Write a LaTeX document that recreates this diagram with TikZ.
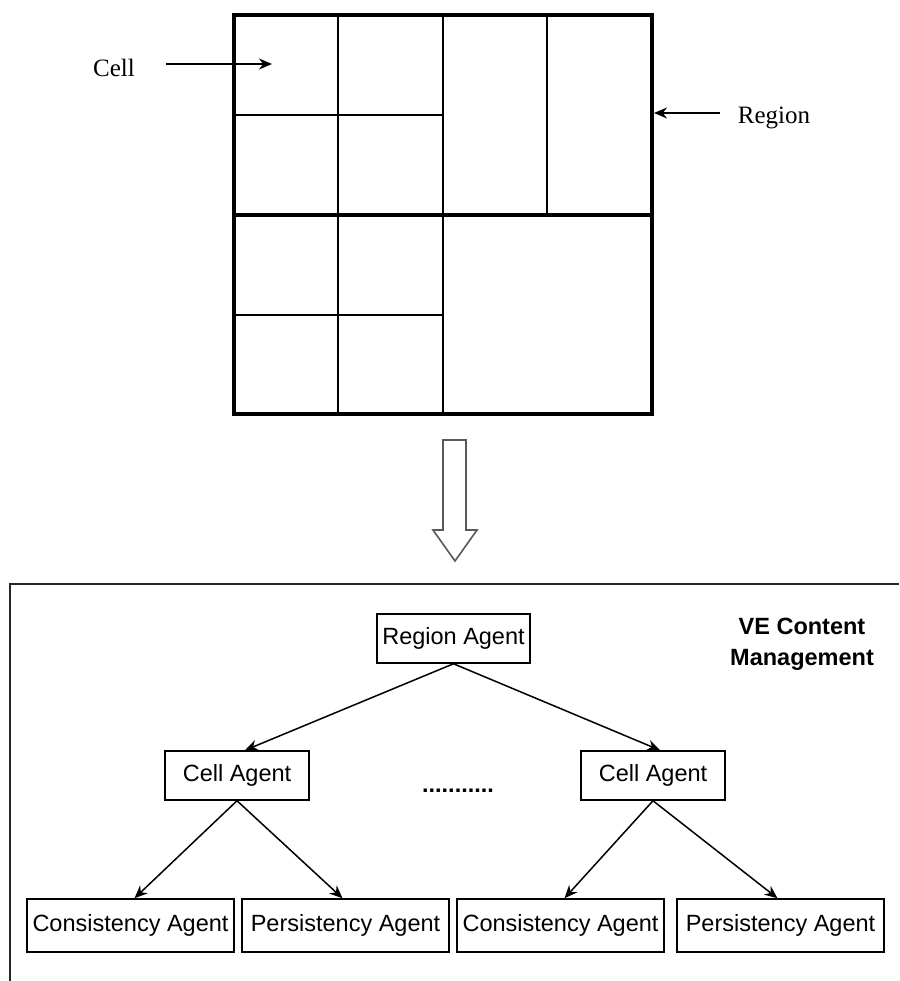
\documentclass[tikz,border=0pt]{standalone}
\usepackage{fontspec}
\setmainfont{Liberation Serif}
\newfontfamily\arialfont{Liberation Sans}
\usetikzlibrary{arrows.meta}

\tikzset{
  thickline/.style={line width=4pt},
  thinline/.style={line width=2pt},
  agent/.style={draw, line width=1.5pt, inner sep=0pt, minimum height=49pt,
    font=\arialfont\fontsize{23.5}{26}\selectfont},
  leaf/.style={agent, minimum width=207pt, minimum height=53pt},
  link/.style={line width=1.5pt, -{Stealth[length=13pt,width=11pt]}},
  pointer/.style={line width=1.5pt, -{Stealth[length=13pt,width=11pt]}},
  serifnote/.style={font=\fontsize{25}{27}\selectfont, inner sep=0pt},
  hollow/.style={draw=black!65, line width=1.6pt, fill=white, line join=miter}
}

\begin{document}
\begin{tikzpicture}[x=1pt, y=-1pt]
\useasboundingbox (0,0) rectangle (899,981);

% --- regions and cells -------------------------------------------------
\coordinate (tl) at (234,15);
\coordinate (br) at (652,414);
\draw[thinline] (338,15) -- (338,414);
\draw[thinline] (443,15) -- (443,414);
\draw[thinline] (547,15) -- (547,215);
\draw[thinline] (234,115) -- (443,115);
\draw[thinline] (234,315) -- (443,315);
\draw[thickline] (234,215) -- (652,215);
\draw[thickline, line join=miter] (tl) rectangle (br);

% --- labels with pointers ----------------------------------------------
\node[serifnote] (cell) at (114,68) {Cell};
\coordinate (cellfrom) at (166,64);
\coordinate (cellto) at (272,64);
\draw[pointer] (cellfrom) -- (cellto);

\node[serifnote] (region) at (774,118) {Region};
\coordinate (regfrom) at (720,113);
\coordinate (regto) at (654,113);
\draw[pointer] (regfrom) -- (regto);

% --- block arrow ---------------------------------------------------------
\draw[hollow] (443,440) -- (466,440) -- (466,530) -- (477,530) -- (455,561)
  -- (433,530) -- (443,530) -- cycle;

% --- content management frame --------------------------------------------
\coordinate (fbot) at (10,981);
\coordinate (fcorner) at (10,584);
\coordinate (fright) at (899,584);
\draw[line width=2pt, black!85] (fbot) -- (fcorner) -- (fright);

\node[font=\arialfont\bfseries\fontsize{23.5}{31}\selectfont, align=center,
  inner sep=0pt] (title) at (802,644) {VE Content\\Management};

% --- agent hierarchy ---------------------------------------------------
\node[agent, minimum width=153pt] (ra) at (453.5,638.5) {Region Agent};
\node[agent, minimum width=144pt] (ca1) at (237,775.5) {Cell Agent};
\node[agent, minimum width=144pt] (ca2) at (653,775.5) {Cell Agent};
\node[font=\arialfont\bfseries\fontsize{23.5}{26}\selectfont, inner sep=0pt,
  anchor=base] (dots) at (458,792) {...........};

\node[leaf] (c1) at (130.5,925.5) {Consistency Agent};
\node[leaf] (p1) at (345.5,925.5) {Persistency Agent};
\node[leaf] (c2) at (560.5,925.5) {Consistency Agent};
\node[leaf] (p2) at (780.5,925.5) {Persistency Agent};

\draw[link] (ra.south) -- ([xshift=8pt]ca1.north);
\draw[link] (ra.south) -- ([xshift=7pt]ca2.north);
\draw[link] (ca1.south) -- ([xshift=4pt]c1.north);
\draw[link] (ca1.south) -- ([xshift=-3pt]p1.north);
\draw[link] (ca2.south) -- ([xshift=4pt]c2.north);
\draw[link] (ca2.south) -- ([xshift=-3pt]p2.north);
\end{tikzpicture}
\end{document}
